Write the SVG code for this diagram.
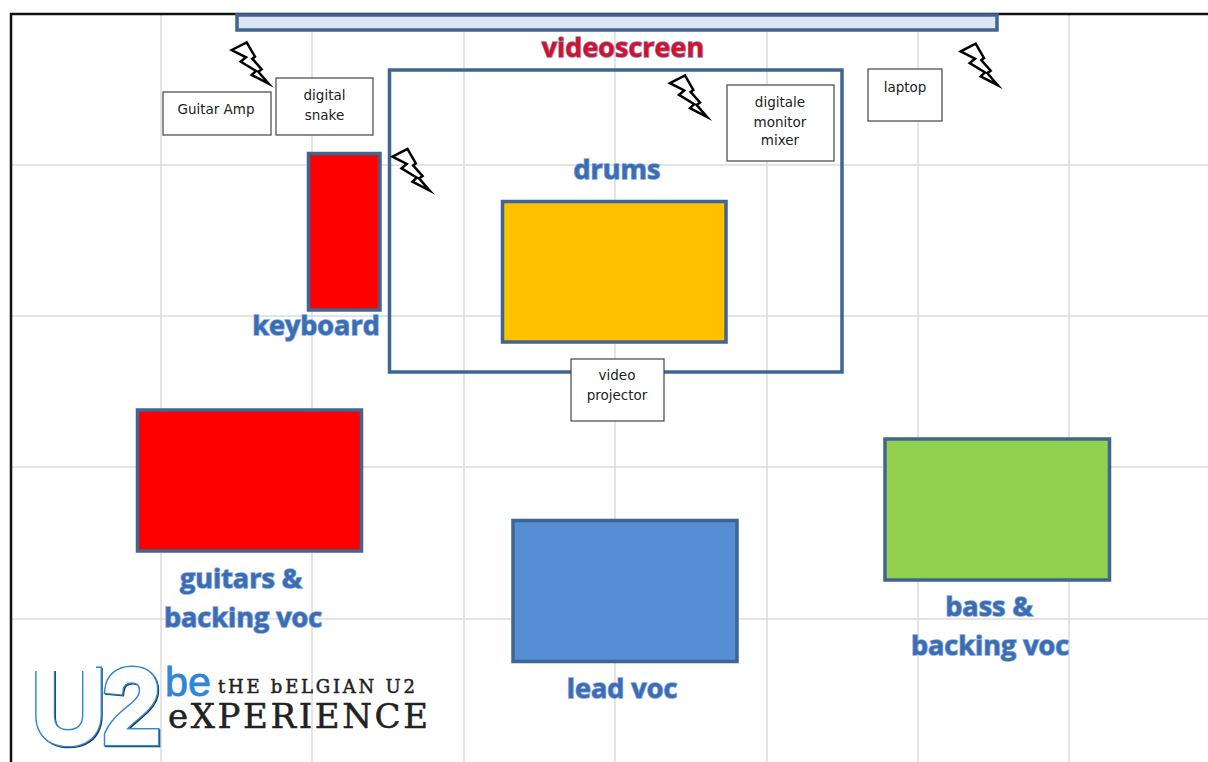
<svg xmlns="http://www.w3.org/2000/svg" width="1208" height="762" viewBox="0 0 1208 762">
<style>
.grid{stroke:#dcdcdc;stroke-width:1.5;fill:none}
.frame{stroke:#111;stroke-width:2.5;fill:none}
.block{stroke:#3f6592;stroke-width:3.5}
.box{fill:#fff;stroke:#444;stroke-width:1.2}
.small{font-family:"DejaVu Sans","Noto Sans",sans-serif;font-size:13.5px;fill:#222;text-anchor:middle}
.label{font-family:"Open Sans","Noto Sans",sans-serif;font-weight:700;font-size:27px;text-anchor:middle;fill:#3b6db4;stroke:#86a8de;stroke-width:1.5;paint-order:stroke}
.red{fill:#d8102c;stroke:#7f92c0}
.bolt{fill:#fff;stroke:#000;stroke-width:2.5;stroke-linejoin:miter;stroke-miterlimit:10}
.slab{font-family:"DejaVu Serif","Liberation Serif",serif;fill:#222;stroke:#222;stroke-width:.5}
.u2{font-family:"Liberation Sans",sans-serif;font-size:100px}
</style>
<defs>
<polygon id="b" class="bolt" points="0,7.7 15,0 23.3,14.4 20.6,16.4 30,27 26.6,29.4 37,41.500 20,32.7 24.3,28.7 9,19.4 14.3,15"/>
<text id="u2" class="u2" x="33" y="741" textLength="126" lengthAdjust="spacingAndGlyphs">U2</text>
</defs>
<rect width="1208" height="762" fill="#fff"/>
<g id="grid">
<path class="grid" d="M161 13V762M312 13V762M464 13V762M615 13V762M767 13V762M918 13V762M1069 13V762M10 165H1208M10 316H1208M10 467H1208M10 619H1208"/>
<path class="frame" d="M11 762V14H1208"/>
</g>
<g id="videoscreen">
<rect class="block" x="237" y="15" width="760" height="15" fill="#dce6f2"/>
<text class="label red" x="623" y="56.500">videoscreen</text>
</g>
<g id="stage"><rect class="block" x="389.500" y="70" width="452.500" height="302" fill="none"/></g>
<g id="keyboard">
<rect class="block" x="308.500" y="153.500" width="71.500" height="156.500" fill="#f00"/>
<text class="label" x="316" y="335">keyboard</text>
</g>
<g id="drums">
<rect class="block" x="502.500" y="201.500" width="223.500" height="140.500" fill="#ffc000"/>
<text class="label" x="617" y="179">drums</text>
</g>
<g id="guitars">
<rect class="block" x="137.500" y="410" width="224" height="141" fill="#f00"/>
<text class="label"><tspan x="241" y="588">guitars &amp;</tspan><tspan x="243" y="627">backing voc</tspan></text>
</g>
<g id="lead">
<rect class="block" x="513" y="520.500" width="224" height="141" fill="#558ed5"/>
<text class="label" x="622" y="698">lead voc</text>
</g>
<g id="bass">
<rect class="block" x="885" y="439" width="224.500" height="141" fill="#92d050"/>
<text class="label"><tspan x="989" y="616">bass &amp;</tspan><tspan x="990" y="655">backing voc</tspan></text>
</g>
<g id="guitar-amp"><rect class="box" x="163" y="92" width="108" height="43"/><text class="small" x="216" y="114">Guitar Amp</text></g>
<g id="digital-snake"><rect class="box" x="276" y="78" width="97" height="57"/><text class="small"><tspan x="324.500" y="100">digital</tspan><tspan x="324.500" y="120">snake</tspan></text></g>
<g id="monitor-mixer"><rect class="box" x="727" y="85" width="107" height="76"/><text class="small"><tspan x="780" y="107">digitale</tspan><tspan x="780" y="127">monitor</tspan><tspan x="780" y="145">mixer</tspan></text></g>
<g id="laptop"><rect class="box" x="868" y="69" width="74" height="52"/><text class="small" x="905" y="92">laptop</text></g>
<g id="video-projector"><rect class="box" x="571" y="359" width="93" height="62"/><text class="small"><tspan x="617" y="380">video</tspan><tspan x="617" y="400">projector</tspan></text></g>
<g id="bolts">
<use href="#b" x="231.700" y="42.300"/>
<use href="#b" x="392.500" y="149"/>
<use href="#b" x="670" y="75.500"/>
<use href="#b" x="960.700" y="43.700"/>
</g>
<g id="logo">
<use href="#u2" x="1" y="1" fill="none" stroke="#1c2f44" stroke-width="10.500"/>
<use href="#u2" fill="none" stroke="#2f86d8" stroke-width="11"/>
<use href="#u2" fill="#fff" stroke="#fff" stroke-width="8"/>
<rect x="28" y="664" width="68" height="7" fill="#fff"/>
<text x="165" y="696" font-family="'Liberation Sans',sans-serif" font-size="41" fill="#2f86d8" stroke="#2f86d8" stroke-width=".8" textLength="46" lengthAdjust="spacingAndGlyphs">be</text>
<text class="slab" x="218" y="693" font-size="18" textLength="197" lengthAdjust="spacing">tHE bELGIAN U2</text>
<text class="slab" x="168" y="728" font-size="34" textLength="260" lengthAdjust="spacing">eXPERIENCE</text>
</g>
</svg>
